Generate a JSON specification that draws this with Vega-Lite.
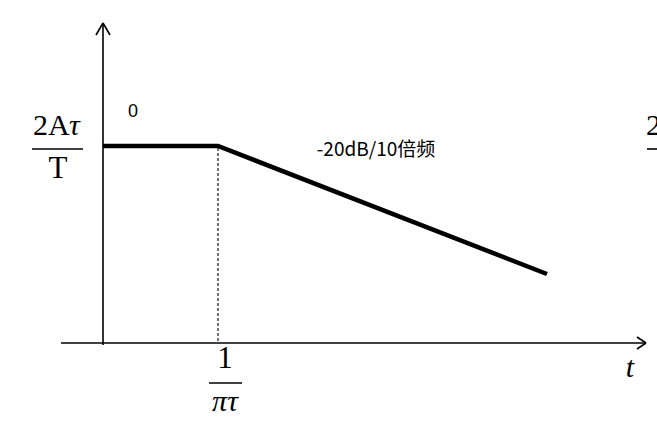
{
  "$schema": "https://vega.github.io/schema/vega-lite/v6.json",
  "width": 657,
  "height": 437,
  "autosize": {"type": "none"},
  "padding": 0,
  "background": "white",
  "config": {"view": {"stroke": null}},
  "datasets": {
    "axes": [
      {"x": 103, "y": 23, "x2": 103, "y2": 345},
      {"x": 61, "y": 343, "x2": 646, "y2": 343},
      {"x": 96, "y": 35, "x2": 103, "y2": 23},
      {"x": 110, "y": 35, "x2": 103, "y2": 23},
      {"x": 637, "y": 337, "x2": 646, "y2": 343},
      {"x": 637, "y": 349, "x2": 646, "y2": 343},
      {"x": 32, "y": 149, "x2": 83, "y2": 149},
      {"x": 209, "y": 383, "x2": 242, "y2": 383},
      {"x": 647, "y": 149, "x2": 657, "y2": 149}
    ],
    "response": [
      {"x": 103, "y": 146},
      {"x": 218, "y": 146},
      {"x": 547, "y": 274}
    ],
    "cutoff": [
      {"x": 218, "y": 148, "x2": 218, "y2": 343}
    ],
    "serifCenter": [
      {"x": 58, "y": 178, "label": "T"},
      {"x": 225, "y": 368, "label": "1"}
    ],
    "serifLeft": [
      {"x": 33, "y": 135, "label": "2A"},
      {"x": 646, "y": 135, "label": "2"}
    ],
    "tauLabel": [
      {"x": 69, "y": 135, "label": "τ"}
    ],
    "zeroLabel": [
      {"x": 133, "y": 117, "label": "0"}
    ],
    "italicLabels": [
      {"x": 225, "y": 411, "label": "πτ"},
      {"x": 630, "y": 377, "label": "t"}
    ],
    "slopeLabel": [
      {"x": 376, "y": 156, "label": "-20dB/10倍频"}
    ]
  },
  "encoding": {
    "x": {"field": "x", "type": "quantitative", "scale": {"domain": [0, 657], "nice": false, "zero": false}, "axis": null},
    "y": {"field": "y", "type": "quantitative", "scale": {"domain": [0, 437], "nice": false, "zero": false, "reverse": true}, "axis": null}
  },
  "layer": [
    {
      "data": {"name": "axes"},
      "mark": {"type": "rule", "color": "black", "strokeWidth": 1.6},
      "encoding": {"x2": {"field": "x2"}, "y2": {"field": "y2"}}
    },
    {
      "data": {"name": "cutoff"},
      "mark": {"type": "rule", "color": "black", "strokeWidth": 1.1, "strokeDash": [3, 2]},
      "encoding": {"x2": {"field": "x2"}, "y2": {"field": "y2"}}
    },
    {
      "data": {"name": "response"},
      "mark": {"type": "line", "color": "black", "strokeWidth": 4.5, "strokeJoin": "miter", "strokeCap": "butt"},
      "encoding": {"order": {"field": "x", "type": "quantitative"}}
    },
    {
      "data": {"name": "serifCenter"},
      "mark": {"type": "text", "font": "Liberation Serif", "fontSize": 31, "align": "center", "baseline": "alphabetic", "color": "black"},
      "encoding": {"text": {"field": "label"}}
    },
    {
      "data": {"name": "serifLeft"},
      "mark": {"type": "text", "font": "Liberation Serif", "fontSize": 30, "align": "left", "baseline": "alphabetic", "color": "black"},
      "encoding": {"text": {"field": "label"}}
    },
    {
      "data": {"name": "tauLabel"},
      "mark": {"type": "text", "font": "Liberation Serif", "fontStyle": "italic", "fontSize": 30, "align": "left", "baseline": "alphabetic", "color": "black"},
      "encoding": {"text": {"field": "label"}}
    },
    {
      "data": {"name": "zeroLabel"},
      "mark": {"type": "text", "font": "Liberation Sans", "fontSize": 18, "align": "center", "baseline": "alphabetic", "color": "black"},
      "encoding": {"text": {"field": "label"}}
    },
    {
      "data": {"name": "italicLabels"},
      "mark": {"type": "text", "font": "Liberation Serif", "fontStyle": "italic", "fontSize": 30, "align": "center", "baseline": "alphabetic", "color": "black"},
      "encoding": {"text": {"field": "label"}}
    },
    {
      "data": {"name": "slopeLabel"},
      "mark": {"type": "text", "font": "Noto Sans CJK SC", "fontSize": 19, "align": "center", "baseline": "alphabetic", "color": "black"},
      "encoding": {"text": {"field": "label"}}
    }
  ]
}
